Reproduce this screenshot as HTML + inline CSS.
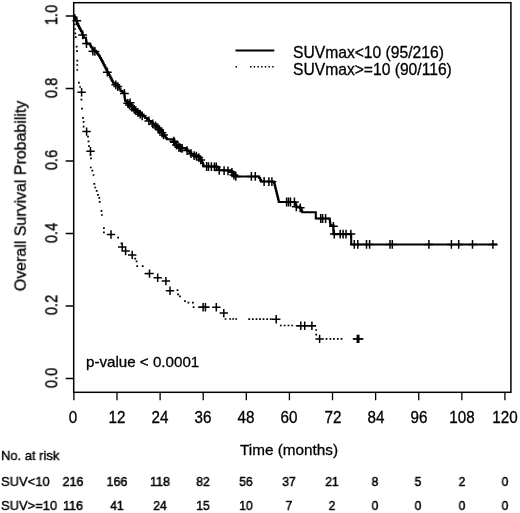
<!DOCTYPE html>
<html><head><meta charset="utf-8"><title>KM</title>
<style>
html,body{margin:0;padding:0;background:#fff;}
body{width:520px;height:513px;position:relative;overflow:hidden;font-family:"Liberation Sans",sans-serif;color:#000;}
.t{position:absolute;white-space:pre;line-height:1;will-change:transform;-webkit-text-stroke:0.3px #000;}
</style></head><body>
<svg width="520" height="513" viewBox="0 0 520 513" style="position:absolute;left:0;top:0">
<rect x="73.7" y="2.7" width="437.2" height="389.6" fill="none" stroke="#000" stroke-width="1.5"/>
<path d="M73.90 392.3v8M117.00 392.3v8M160.11 392.3v8M203.21 392.3v8M246.32 392.3v8M289.42 392.3v8M332.52 392.3v8M375.63 392.3v8M418.73 392.3v8M461.84 392.3v8M504.94 392.3v8M73.7 378.50h-8M73.7 306.00h-8M73.7 233.50h-8M73.7 161.00h-8M73.7 88.50h-8M73.7 16.00h-8" stroke="#000" stroke-width="1.3" fill="none"/>
<path d="M74.00 15.30H74.63V17.07H75.27V18.83H75.90V20.60H76.68V22.35H77.45V24.10H78.22V25.85H79.00V27.60H79.93V29.30H80.87V31.00H81.80V32.70H82.50V34.90H83.10V36.35H83.70V37.80H86.00V40.10H86.25V41.85H86.50V43.60H89.60V44.20H90.35V45.70H91.10V47.20H92.30V49.00H93.50V50.80H96.00V52.00H97.03V53.40H98.07V54.80H99.10V56.20H100.05V57.95H101.00V59.70H101.95V61.45H102.90V63.20H103.78V64.96H104.66V66.72H105.54V68.48H106.42V70.24H107.30V72.00H108.11V73.53H108.93V75.06H109.74V76.59H110.56V78.11H111.37V79.64H112.19V81.17H113.00V82.70H115.25V84.25H117.50V85.80H118.53V87.50H119.57V89.20H120.60V90.90H122.45V92.20H124.30V93.50H124.47V95.28H124.65V97.05H124.83V98.82H125.00V100.60H126.75V102.30H128.50V104.00H130.47V105.87H132.43V107.73H134.40V109.60H136.67V111.40H138.93V113.20H141.20V115.00H143.15V116.50H145.10V118.00H147.05V119.50H149.00V121.00H150.95V122.50H152.90V124.00H154.85V125.50H156.80V127.00H159.00V129.00H160.18V130.55H161.35V132.10H162.52V133.65H163.70V135.20H164.73V136.57H165.77V137.93H166.80V139.30H173.00V140.00H174.18V141.72H175.35V143.45H176.52V145.18H177.70V146.90H181.60V148.10H185.50V149.30H187.45V150.85H189.40V152.40H191.35V153.95H193.30V155.50H197.80V156.30H199.10V157.93H200.40V159.57H201.70V161.20H202.33V162.90H202.97V164.60H203.60V166.30H217.30V167.00H218.25V168.65H219.20V170.30H230.90V170.90H232.20V172.73H233.50V174.57H234.80V176.40H258.20V176.40H259.17V178.07H260.13V179.73H261.10V181.40H273.80V181.70H274.18V183.26H274.57V184.82H274.95V186.38H275.34V187.95H275.72V189.51H276.11V191.07H276.49V192.63H276.88V194.19H277.26V195.75H277.65V197.32H278.03V198.88H278.42V200.44H278.80V202.00H294.40V202.00H295.03V203.60H295.67V205.20H296.30V206.80H300.20V207.80H300.87V209.27H301.53V210.73H302.20V212.20H315.80V212.20H315.80V218.50H329.50V218.50H329.73V220.20H329.95V221.90H330.17V223.60H330.40V225.30H333.40V226.30H333.40V234.10H351.20V234.10H351.20V244.40H497.40V244.40" stroke="#000" stroke-width="2.05" fill="none" stroke-linejoin="miter"/>
<path d="M73.40 19.50h1.8M73.80 24.30h1.8M74.10 29.00h1.8M74.40 33.40h1.8M74.80 37.20h1.8M75.70 46.70h1.8M76.10 51.10h1.8M76.40 60.60h1.8M76.40 65.00h1.8M76.40 70.00h1.8M78.00 82.70h1.8M79.20 87.00h1.8M80.50 99.70h1.8M81.10 108.60h1.8M82.10 117.90h1.8M82.70 121.80h1.8M82.70 126.70h1.8M87.10 136.60h1.8M87.60 141.30h1.8M88.10 146.20h1.8M89.60 155.00h1.8M90.10 158.40h1.8M89.90 167.50h1.8M91.40 170.70h1.8M92.60 175.00h1.8M93.40 183.90h1.8M94.30 187.50h1.8M95.80 190.90h1.8M97.00 194.80h1.8M98.40 197.80h1.8M98.80 201.80h1.8M100.60 210.80h1.8M101.00 215.00h1.8M103.00 228.10h1.8M103.00 232.30h1.8M117.20 237.60h1.8M120.60 243.40h1.8M134.30 258.60h1.8M135.70 261.30h1.8M136.30 266.10h1.8M141.80 266.10h1.8M176.60 290.20h1.8M177.20 294.30h1.8M179.00 296.30h1.8M184.10 301.10h1.8M187.50 302.70h1.8M192.00 302.70h1.8M192.70 307.20h1.8M224.60 319.00h1.8M229.30 319.00h1.8M232.30 319.00h1.8M235.30 319.00h1.8M248.30 319.20h1.8M251.90 319.20h1.8M255.60 319.20h1.8M259.10 319.20h1.8M262.60 319.20h1.8M266.30 319.20h1.8M269.90 319.20h1.8M279.90 325.50h1.8M283.70 325.50h1.8M287.60 325.50h1.8M291.30 325.50h1.8M315.30 330.00h1.8M315.30 334.60h1.8M325.60 338.90h1.8M329.50 338.90h1.8M333.00 338.90h1.8M336.90 338.90h1.8M340.60 338.90h1.8" stroke="#000" stroke-width="1.7" fill="none"/>
<path d="M197.9 307.2H209.5M295.8 325.8H315.8M352.7 338.9H363.5M144.5 273.6H149" stroke="#000" stroke-width="1.3" fill="none"/>
<path d="M72.4 20.8h8.8M76.8 16.4v8.8M78.3 34.9h8.8M82.7 30.5v8.8M82.1 43.6h8.8M86.5 39.2v8.8M88.5 51.2h8.8M92.9 46.8v8.8M90.5 51.4h8.8M94.9 47.0v8.8M102.9 72.2h8.8M107.3 67.8v8.8M111.4 84.8h8.8M115.8 80.4v8.8M113.4 86.6h8.8M117.8 82.2v8.8M120.0 93.4h8.8M124.4 89.0v8.8M125.7 102.8h8.8M130.1 98.4v8.8M123.4 103.3h8.8M127.8 98.9v8.8M125.0 104.9h8.8M129.4 100.5v8.8M127.4 107.1h8.8M131.8 102.7v8.8M129.8 109.4h8.8M134.2 105.0v8.8M131.4 110.7h8.8M135.8 106.3v8.8M133.4 112.3h8.8M137.8 107.9v8.8M135.8 114.2h8.8M140.2 109.8v8.8M137.8 115.8h8.8M142.2 111.4v8.8M151.1 126.0h8.8M155.5 121.6v8.8M153.5 128.0h8.8M157.9 123.6v8.8M155.1 129.7h8.8M159.5 125.3v8.8M157.5 132.8h8.8M161.9 128.4v8.8M159.1 134.9h8.8M163.5 130.5v8.8M170.1 142.2h8.8M174.5 137.8v8.8M172.1 145.1h8.8M176.5 140.7v8.8M174.5 147.3h8.8M178.9 142.9v8.8M176.1 147.8h8.8M180.5 143.4v8.8M177.7 148.3h8.8M182.1 143.9v8.8M144.5 120.9h8.8M148.9 116.5v8.8M148.4 123.9h8.8M152.8 119.5v8.8M169.4 141.2h8.8M173.8 136.8v8.8M182.7 150.6h8.8M187.1 146.2v8.8M186.6 153.7h8.8M191.0 149.3v8.8M189.7 155.6h8.8M194.1 151.2v8.8M192.0 156.1h8.8M196.4 151.7v8.8M194.4 157.6h8.8M198.8 153.2v8.8M196.3 159.9h8.8M200.7 155.5v8.8M202.2 166.5h8.8M206.6 162.1v8.8M204.1 166.6h8.8M208.5 162.2v8.8M207.0 166.7h8.8M211.4 162.3v8.8M210.0 166.9h8.8M214.4 162.5v8.8M211.9 166.9h8.8M216.3 162.5v8.8M214.8 170.3h8.8M219.2 165.9v8.8M219.7 170.6h8.8M224.1 166.2v8.8M223.6 170.8h8.8M228.0 166.4v8.8M227.5 172.3h8.8M231.9 167.9v8.8M229.5 175.1h8.8M233.9 170.7v8.8M231.4 176.4h8.8M235.8 172.0v8.8M247.0 176.4h8.8M251.4 172.0v8.8M250.9 176.4h8.8M255.3 172.0v8.8M259.7 181.5h8.8M264.1 177.1v8.8M264.5 181.6h8.8M268.9 177.2v8.8M267.5 181.7h8.8M271.9 177.3v8.8M282.2 202.0h8.8M286.6 197.6v8.8M284.1 202.0h8.8M288.5 197.6v8.8M286.1 202.0h8.8M290.5 197.6v8.8M290.0 202.0h8.8M294.4 197.6v8.8M291.9 206.8h8.8M296.3 202.4v8.8M295.8 207.8h8.8M300.2 203.4v8.8M316.3 218.5h8.8M320.7 214.1v8.8M318.2 218.5h8.8M322.6 214.1v8.8M321.2 218.5h8.8M325.6 214.1v8.8M329.0 226.3h8.8M333.4 221.9v8.8M329.9 234.1h8.8M334.3 229.7v8.8M335.8 234.1h8.8M340.2 229.7v8.8M338.7 234.1h8.8M343.1 229.7v8.8M341.6 234.1h8.8M346.0 229.7v8.8M346.5 234.1h8.8M350.9 229.7v8.8M349.9 244.4h8.8M354.3 240.0v8.8M353.4 244.4h8.8M357.8 240.0v8.8M362.1 244.4h8.8M366.5 240.0v8.8M365.2 244.4h8.8M369.6 240.0v8.8M385.6 244.4h8.8M390.0 240.0v8.8M387.9 244.4h8.8M392.3 240.0v8.8M424.5 244.4h8.8M428.9 240.0v8.8M447.0 244.4h8.8M451.4 240.0v8.8M454.3 244.4h8.8M458.7 240.0v8.8M468.1 244.4h8.8M472.5 240.0v8.8M488.5 244.4h8.8M492.9 240.0v8.8" stroke="#000" stroke-width="1.5" fill="none"/>
<path d="M77.4 92.2h8.4M81.6 88.0v8.4M82.4 131.6h8.4M86.6 127.4v8.4M86.3 151.3h8.4M90.5 147.1v8.4M106.8 234.5h8.4M111.0 230.3v8.4M118.0 247.0h8.4M122.2 242.8v8.4M121.4 251.1h8.4M125.6 246.9v8.4M128.0 254.9h8.4M132.2 250.7v8.4M145.3 273.6h8.4M149.5 269.4v8.4M153.5 277.7h8.4M157.7 273.5v8.4M161.7 281.1h8.4M165.9 276.9v8.4M165.8 290.7h8.4M170.0 286.5v8.4M198.9 307.2h8.4M203.1 303.0v8.4M201.2 307.2h8.4M205.4 303.0v8.4M212.1 307.2h8.4M216.3 303.0v8.4M219.6 313.1h8.4M223.8 308.9v8.4M272.0 319.2h8.4M276.2 315.0v8.4M296.6 325.8h8.4M300.8 321.6v8.4M300.5 325.8h8.4M304.7 321.6v8.4M307.7 325.8h8.4M311.9 321.6v8.4M315.4 338.9h8.4M319.6 334.7v8.4M353.1 338.9h8.4M357.3 334.7v8.4M354.6 338.9h8.4M358.8 334.7v8.4" stroke="#000" stroke-width="1.5" fill="none"/>
<path d="M235.5 50.5H274.3" stroke="#000" stroke-width="2"/>
<path d="M235.50 66.7h1.5M250.00 66.7h1.5M253.65 66.7h1.5M257.35 66.7h1.5M261.05 66.7h1.5M264.75 66.7h1.5M268.45 66.7h1.5M272.15 66.7h1.5" stroke="#000" stroke-width="1.5"/>
</svg>
<div class="t" style="left:73.3px;top:410.33px;font-size:15.20px;transform:translateX(-50%) scaleY(1.07);transform-origin:50% 84.65%">0</div>
<div class="t" style="left:117.0px;top:410.33px;font-size:15.20px;transform:translateX(-50%) scaleY(1.07);transform-origin:50% 84.65%">12</div>
<div class="t" style="left:160.1px;top:410.33px;font-size:15.20px;transform:translateX(-50%) scaleY(1.07);transform-origin:50% 84.65%">24</div>
<div class="t" style="left:203.2px;top:410.33px;font-size:15.20px;transform:translateX(-50%) scaleY(1.07);transform-origin:50% 84.65%">36</div>
<div class="t" style="left:246.3px;top:410.33px;font-size:15.20px;transform:translateX(-50%) scaleY(1.07);transform-origin:50% 84.65%">48</div>
<div class="t" style="left:289.4px;top:410.33px;font-size:15.20px;transform:translateX(-50%) scaleY(1.07);transform-origin:50% 84.65%">60</div>
<div class="t" style="left:332.5px;top:410.33px;font-size:15.20px;transform:translateX(-50%) scaleY(1.07);transform-origin:50% 84.65%">72</div>
<div class="t" style="left:375.6px;top:410.33px;font-size:15.20px;transform:translateX(-50%) scaleY(1.07);transform-origin:50% 84.65%">84</div>
<div class="t" style="left:418.7px;top:410.33px;font-size:15.20px;transform:translateX(-50%) scaleY(1.07);transform-origin:50% 84.65%">96</div>
<div class="t" style="left:461.8px;top:410.33px;font-size:15.20px;transform:translateX(-50%) scaleY(1.07);transform-origin:50% 84.65%">108</div>
<div class="t" style="left:504.9px;top:410.33px;font-size:15.20px;transform:translateX(-50%) scaleY(1.07);transform-origin:50% 84.65%">120</div>
<div class="t" style="left:289.2px;top:442.05px;font-size:15.30px;transform:translateX(-50%)">Time (months)</div>
<div class="t" style="left:86.0px;top:354.38px;font-size:15.15px;transform:translateX(0)">p-value &lt; 0.0001</div>
<div class="t" style="left:292.7px;top:45.15px;font-size:15.65px;transform:translateX(0)">SUVmax&lt;10 (95/216)</div>
<div class="t" style="left:292.7px;top:61.65px;font-size:15.65px;transform:translateX(0)">SUVmax&gt;=10 (90/116)</div>
<div class="t" style="left:1.3px;top:448.77px;font-size:13.50px;transform-origin:0 0;transform:scaleX(0.960);-webkit-text-stroke:0.4px #000">No. at risk</div>
<div class="t" style="left:1.3px;top:474.87px;font-size:13.50px;transform-origin:0 0;transform:scaleX(0.960);-webkit-text-stroke:0.4px #000">SUV&lt;10</div>
<div class="t" style="left:1.3px;top:499.47px;font-size:13.50px;transform-origin:0 0;transform:scaleX(0.960);-webkit-text-stroke:0.4px #000">SUV&gt;=10</div>
<div class="t" style="left:72.7px;top:474.87px;font-size:13.50px;transform:translateX(-50%) scaleX(0.930);-webkit-text-stroke:0.5px #000">216</div>
<div class="t" style="left:72.7px;top:499.47px;font-size:13.50px;transform:translateX(-50%) scaleX(0.930);-webkit-text-stroke:0.5px #000">116</div>
<div class="t" style="left:116.7px;top:474.87px;font-size:13.50px;transform:translateX(-50%) scaleX(0.930);-webkit-text-stroke:0.5px #000">166</div>
<div class="t" style="left:116.7px;top:499.47px;font-size:13.50px;transform:translateX(-50%) scaleX(0.890);-webkit-text-stroke:0.5px #000">41</div>
<div class="t" style="left:159.8px;top:474.87px;font-size:13.50px;transform:translateX(-50%) scaleX(0.930);-webkit-text-stroke:0.5px #000">118</div>
<div class="t" style="left:159.8px;top:499.47px;font-size:13.50px;transform:translateX(-50%) scaleX(0.890);-webkit-text-stroke:0.5px #000">24</div>
<div class="t" style="left:202.9px;top:474.87px;font-size:13.50px;transform:translateX(-50%) scaleX(0.890);-webkit-text-stroke:0.5px #000">82</div>
<div class="t" style="left:202.9px;top:499.47px;font-size:13.50px;transform:translateX(-50%) scaleX(0.890);-webkit-text-stroke:0.5px #000">15</div>
<div class="t" style="left:246.0px;top:474.87px;font-size:13.50px;transform:translateX(-50%) scaleX(0.890);-webkit-text-stroke:0.5px #000">56</div>
<div class="t" style="left:246.0px;top:499.47px;font-size:13.50px;transform:translateX(-50%) scaleX(0.890);-webkit-text-stroke:0.5px #000">10</div>
<div class="t" style="left:289.1px;top:474.87px;font-size:13.50px;transform:translateX(-50%) scaleX(0.890);-webkit-text-stroke:0.5px #000">37</div>
<div class="t" style="left:289.1px;top:499.47px;font-size:13.50px;transform:translateX(-50%) scaleX(0.890);-webkit-text-stroke:0.5px #000">7</div>
<div class="t" style="left:332.2px;top:474.87px;font-size:13.50px;transform:translateX(-50%) scaleX(0.890);-webkit-text-stroke:0.5px #000">21</div>
<div class="t" style="left:332.2px;top:499.47px;font-size:13.50px;transform:translateX(-50%) scaleX(0.890);-webkit-text-stroke:0.5px #000">2</div>
<div class="t" style="left:375.3px;top:474.87px;font-size:13.50px;transform:translateX(-50%) scaleX(0.890);-webkit-text-stroke:0.5px #000">8</div>
<div class="t" style="left:375.3px;top:499.47px;font-size:13.50px;transform:translateX(-50%) scaleX(0.890);-webkit-text-stroke:0.5px #000">0</div>
<div class="t" style="left:418.4px;top:474.87px;font-size:13.50px;transform:translateX(-50%) scaleX(0.890);-webkit-text-stroke:0.5px #000">5</div>
<div class="t" style="left:418.4px;top:499.47px;font-size:13.50px;transform:translateX(-50%) scaleX(0.890);-webkit-text-stroke:0.5px #000">0</div>
<div class="t" style="left:461.5px;top:474.87px;font-size:13.50px;transform:translateX(-50%) scaleX(0.890);-webkit-text-stroke:0.5px #000">2</div>
<div class="t" style="left:461.5px;top:499.47px;font-size:13.50px;transform:translateX(-50%) scaleX(0.890);-webkit-text-stroke:0.5px #000">0</div>
<div class="t" style="left:504.6px;top:474.87px;font-size:13.50px;transform:translateX(-50%) scaleX(0.890);-webkit-text-stroke:0.5px #000">0</div>
<div class="t" style="left:504.6px;top:499.47px;font-size:13.50px;transform:translateX(-50%) scaleX(0.890);-webkit-text-stroke:0.5px #000">0</div>
<div class="t" style="left:52.45px;top:377.70px;font-size:14.60px;transform:translate(-50%,-50%) rotate(-90deg) scaleY(1.180)">0.0</div>
<div class="t" style="left:52.45px;top:305.20px;font-size:14.60px;transform:translate(-50%,-50%) rotate(-90deg) scaleY(1.180)">0.2</div>
<div class="t" style="left:52.45px;top:232.70px;font-size:14.60px;transform:translate(-50%,-50%) rotate(-90deg) scaleY(1.180)">0.4</div>
<div class="t" style="left:52.45px;top:160.20px;font-size:14.60px;transform:translate(-50%,-50%) rotate(-90deg) scaleY(1.180)">0.6</div>
<div class="t" style="left:52.45px;top:87.70px;font-size:14.60px;transform:translate(-50%,-50%) rotate(-90deg) scaleY(1.180)">0.8</div>
<div class="t" style="left:52.45px;top:15.20px;font-size:14.60px;transform:translate(-50%,-50%) rotate(-90deg) scaleY(1.180)">1.0</div>
<div class="t" style="left:20.80px;top:195.50px;font-size:15.95px;transform:translate(-50%,-50%) rotate(-90deg) scaleY(0.940)">Overall Survival Probability</div>
</body></html>
